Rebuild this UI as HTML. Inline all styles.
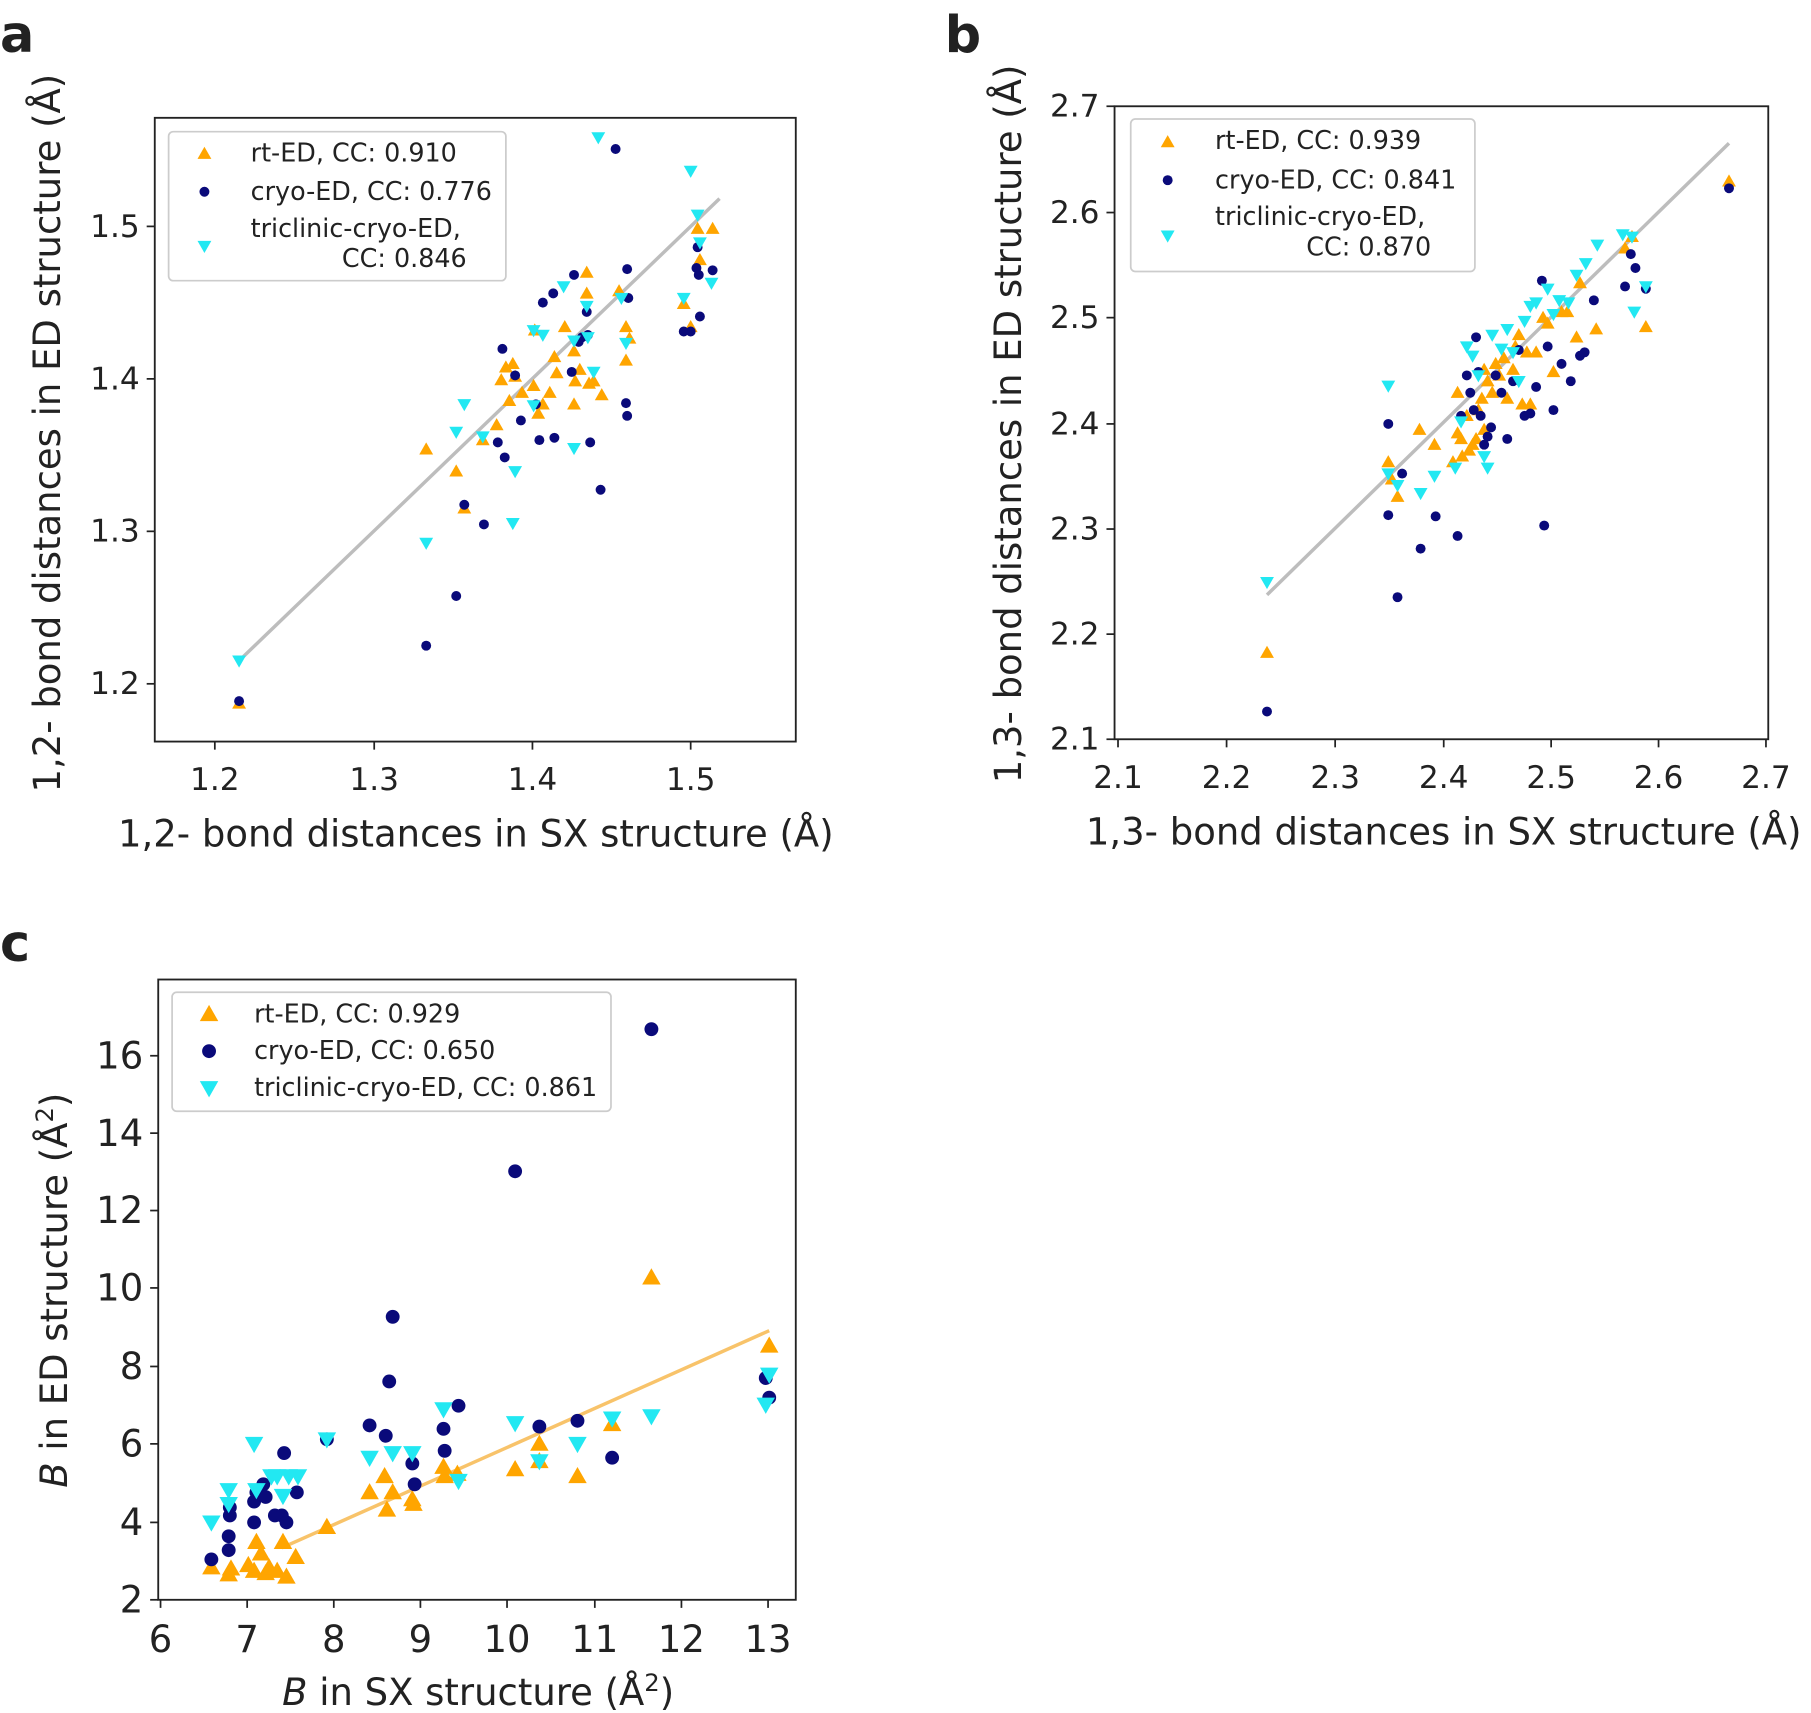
<!DOCTYPE html>
<html><head><meta charset="utf-8"><style>html,body{margin:0;padding:0;background:#fff}svg{display:block}text{font-family:"DejaVu Sans","Liberation Sans",sans-serif;fill:#222}</style></head><body>
<svg width="1811" height="1713" viewBox="0 0 1568 1483" preserveAspectRatio="none" xmlns="http://www.w3.org/2000/svg">
<defs>
<polygon id="tu" points="0,-6 6,4.5 -6,4.5" fill="#FFA500"/>
<polygon id="td" points="0,6 6,-4.5 -6,-4.5" fill="#22E8F2"/>
<circle id="c" r="4.3" fill="#0A0A7A"/>
<polygon id="TU" points="0,-8 8,6 -8,6" fill="#FFA500"/>
<polygon id="TD" points="0,8 8,-6 -8,-6" fill="#22E8F2"/>
<circle id="C" r="6" fill="#0A0A7A"/>
</defs>
<rect width="1568" height="1483" fill="#fff"/>

<!-- Panel a -->
<text x="0" y="45" font-size="44" font-weight="bold" fill="#000">a</text>
<line x1="207" y1="572" x2="623" y2="172" stroke="#bdbdbd" stroke-width="3"/>
<g>
<use href="#tu" x="207" y="609"/><use href="#tu" x="369" y="389"/><use href="#tu" x="395" y="408"/><use href="#tu" x="402" y="440"/><use href="#tu" x="418" y="381"/><use href="#tu" x="430" y="368"/><use href="#tu" x="434" y="329"/><use href="#tu" x="438" y="318"/><use href="#tu" x="444" y="315"/><use href="#tu" x="441" y="347"/><use href="#tu" x="446" y="326"/><use href="#tu" x="452" y="340"/><use href="#tu" x="462" y="334"/><use href="#tu" x="463" y="286"/><use href="#tu" x="466" y="358"/><use href="#tu" x="470" y="350"/><use href="#tu" x="476" y="340"/><use href="#tu" x="480" y="309"/><use href="#tu" x="482" y="323"/><use href="#tu" x="489" y="283"/><use href="#tu" x="497" y="350"/><use href="#tu" x="498" y="330"/><use href="#tu" x="502" y="320"/><use href="#tu" x="508" y="236"/><use href="#tu" x="508" y="254"/><use href="#tu" x="510" y="332"/><use href="#tu" x="514" y="330"/><use href="#tu" x="521" y="342"/><use href="#tu" x="536" y="252"/><use href="#tu" x="542" y="283"/><use href="#tu" x="542" y="312"/><use href="#tu" x="545" y="293"/><use href="#tu" x="592" y="263"/><use href="#tu" x="598" y="283"/><use href="#tu" x="604" y="198"/><use href="#tu" x="606" y="225"/><use href="#tu" x="617" y="198"/><use href="#tu" x="497" y="304"/>
<use href="#c" x="207" y="607"/><use href="#c" x="369" y="559"/><use href="#c" x="395" y="516"/><use href="#c" x="402" y="437"/><use href="#c" x="419" y="454"/><use href="#c" x="431" y="383"/><use href="#c" x="435" y="302"/><use href="#c" x="437" y="396"/><use href="#c" x="446" y="325"/><use href="#c" x="451" y="364"/><use href="#c" x="464" y="350"/><use href="#c" x="467" y="381"/><use href="#c" x="470" y="262"/><use href="#c" x="479" y="254"/><use href="#c" x="480" y="379"/><use href="#c" x="495" y="322"/><use href="#c" x="497" y="238"/><use href="#c" x="501" y="296"/><use href="#c" x="504" y="292"/><use href="#c" x="508" y="270"/><use href="#c" x="509" y="290"/><use href="#c" x="511" y="383"/><use href="#c" x="520" y="424"/><use href="#c" x="533" y="129"/><use href="#c" x="542" y="349"/><use href="#c" x="543" y="360"/><use href="#c" x="543" y="233"/><use href="#c" x="544" y="258"/><use href="#c" x="592" y="287"/><use href="#c" x="598" y="287"/><use href="#c" x="603" y="232"/><use href="#c" x="604" y="214"/><use href="#c" x="605" y="238"/><use href="#c" x="606" y="274"/><use href="#c" x="617" y="234"/>
<use href="#td" x="207" y="572"/><use href="#td" x="369" y="470"/><use href="#td" x="395" y="374"/><use href="#td" x="402" y="350"/><use href="#td" x="418" y="378"/><use href="#td" x="444" y="453"/><use href="#td" x="446" y="408"/><use href="#td" x="462" y="351"/><use href="#td" x="462" y="286"/><use href="#td" x="470" y="290"/><use href="#td" x="488" y="248"/><use href="#td" x="497" y="388"/><use href="#td" x="497" y="295"/><use href="#td" x="508" y="265"/><use href="#td" x="509" y="292"/><use href="#td" x="514" y="322"/><use href="#td" x="518" y="119"/><use href="#td" x="538" y="258"/><use href="#td" x="542" y="297"/><use href="#td" x="592" y="258"/><use href="#td" x="598" y="148"/><use href="#td" x="604" y="186"/><use href="#td" x="606" y="210"/><use href="#td" x="616" y="245"/>
</g>
<rect x="134" y="102" width="555" height="540" fill="none" stroke="#222" stroke-width="1.6"/>
<g stroke="#222" stroke-width="1.5">
<line x1="186" y1="642" x2="186" y2="649"/><line x1="324" y1="642" x2="324" y2="649"/><line x1="461" y1="642" x2="461" y2="649"/><line x1="598" y1="642" x2="598" y2="649"/>
<line x1="127" y1="196" x2="134" y2="196"/><line x1="127" y1="328" x2="134" y2="328"/><line x1="127" y1="460" x2="134" y2="460"/><line x1="127" y1="592" x2="134" y2="592"/>
</g>
<g font-size="27" text-anchor="middle"><text x="186" y="684">1.2</text><text x="324" y="684">1.3</text><text x="461" y="684">1.4</text><text x="598" y="684">1.5</text></g>
<g font-size="27" text-anchor="end"><text x="121" y="205">1.5</text><text x="121" y="337">1.4</text><text x="121" y="469">1.3</text><text x="121" y="601">1.2</text></g>
<text x="412" y="733" font-size="32" text-anchor="middle">1,2- bond distances in SX structure (Å)</text>
<text transform="translate(52,375) rotate(-90)" font-size="32" text-anchor="middle">1,2- bond distances in ED structure (Å)</text>
<rect x="146" y="114" width="292" height="129" rx="4" fill="#fff" fill-opacity="0.85" stroke="#ccc" stroke-width="1.5"/>
<use href="#tu" x="177" y="133"/><use href="#c" x="177" y="166"/><use href="#td" x="177" y="213"/>
<g font-size="22"><text x="217" y="140">rt-ED, CC: 0.910</text><text x="217" y="173">cryo-ED, CC: 0.776</text><text x="217" y="205">triclinic-cryo-ED,</text><text x="296" y="231">CC: 0.846</text></g>

<!-- Panel b -->
<text x="818" y="45" font-size="44" font-weight="bold" fill="#000">b</text>
<line x1="1097" y1="515" x2="1497" y2="124" stroke="#bdbdbd" stroke-width="3"/>
<g>
<use href="#tu" x="1097" y="565"/><use href="#tu" x="1202" y="400"/><use href="#tu" x="1205" y="415"/><use href="#tu" x="1210" y="430"/><use href="#tu" x="1229" y="372"/><use href="#tu" x="1242" y="385"/><use href="#tu" x="1258" y="400"/><use href="#tu" x="1262" y="375"/><use href="#tu" x="1265" y="380"/><use href="#tu" x="1266" y="395"/><use href="#tu" x="1270" y="360"/><use href="#tu" x="1272" y="390"/><use href="#tu" x="1275" y="385"/><use href="#tu" x="1278" y="380"/><use href="#tu" x="1280" y="355"/><use href="#tu" x="1283" y="345"/><use href="#tu" x="1285" y="372"/><use href="#tu" x="1288" y="330"/><use href="#tu" x="1292" y="340"/><use href="#tu" x="1295" y="315"/><use href="#tu" x="1298" y="325"/><use href="#tu" x="1302" y="310"/><use href="#tu" x="1305" y="345"/><use href="#tu" x="1310" y="320"/><use href="#tu" x="1312" y="300"/><use href="#tu" x="1315" y="290"/><use href="#tu" x="1318" y="350"/><use href="#tu" x="1322" y="305"/><use href="#tu" x="1325" y="350"/><use href="#tu" x="1330" y="305"/><use href="#tu" x="1336" y="275"/><use href="#tu" x="1340" y="280"/><use href="#tu" x="1345" y="322"/><use href="#tu" x="1352" y="270"/><use href="#tu" x="1357" y="270"/><use href="#tu" x="1365" y="292"/><use href="#tu" x="1368" y="245"/><use href="#tu" x="1382" y="285"/><use href="#tu" x="1407" y="215"/><use href="#tu" x="1413" y="205"/><use href="#tu" x="1425" y="283"/><use href="#tu" x="1497" y="157"/><use href="#tu" x="1262" y="340"/><use href="#tu" x="1285" y="320"/>
<use href="#c" x="1097" y="616"/><use href="#c" x="1202" y="367"/><use href="#c" x="1202" y="446"/><use href="#c" x="1210" y="517"/><use href="#c" x="1214" y="410"/><use href="#c" x="1230" y="475"/><use href="#c" x="1243" y="447"/><use href="#c" x="1262" y="464"/><use href="#c" x="1265" y="360"/><use href="#c" x="1270" y="325"/><use href="#c" x="1273" y="340"/><use href="#c" x="1276" y="355"/><use href="#c" x="1278" y="292"/><use href="#c" x="1280" y="322"/><use href="#c" x="1282" y="360"/><use href="#c" x="1285" y="385"/><use href="#c" x="1288" y="378"/><use href="#c" x="1291" y="370"/><use href="#c" x="1295" y="325"/><use href="#c" x="1300" y="340"/><use href="#c" x="1305" y="380"/><use href="#c" x="1310" y="330"/><use href="#c" x="1315" y="303"/><use href="#c" x="1320" y="360"/><use href="#c" x="1325" y="358"/><use href="#c" x="1330" y="335"/><use href="#c" x="1335" y="243"/><use href="#c" x="1337" y="455"/><use href="#c" x="1340" y="300"/><use href="#c" x="1345" y="355"/><use href="#c" x="1352" y="315"/><use href="#c" x="1360" y="330"/><use href="#c" x="1368" y="308"/><use href="#c" x="1372" y="305"/><use href="#c" x="1380" y="260"/><use href="#c" x="1407" y="248"/><use href="#c" x="1412" y="220"/><use href="#c" x="1416" y="232"/><use href="#c" x="1425" y="250"/><use href="#c" x="1497" y="163"/>
<use href="#td" x="1097" y="504"/><use href="#td" x="1202" y="334"/><use href="#td" x="1202" y="410"/><use href="#td" x="1210" y="420"/><use href="#td" x="1230" y="427"/><use href="#td" x="1242" y="412"/><use href="#td" x="1260" y="405"/><use href="#td" x="1265" y="365"/><use href="#td" x="1270" y="300"/><use href="#td" x="1275" y="308"/><use href="#td" x="1280" y="325"/><use href="#td" x="1285" y="395"/><use href="#td" x="1288" y="405"/><use href="#td" x="1292" y="290"/><use href="#td" x="1300" y="302"/><use href="#td" x="1305" y="285"/><use href="#td" x="1310" y="305"/><use href="#td" x="1315" y="330"/><use href="#td" x="1320" y="278"/><use href="#td" x="1325" y="265"/><use href="#td" x="1330" y="262"/><use href="#td" x="1340" y="250"/><use href="#td" x="1345" y="272"/><use href="#td" x="1350" y="260"/><use href="#td" x="1358" y="262"/><use href="#td" x="1365" y="238"/><use href="#td" x="1373" y="228"/><use href="#td" x="1383" y="212"/><use href="#td" x="1405" y="203"/><use href="#td" x="1413" y="205"/><use href="#td" x="1415" y="270"/><use href="#td" x="1425" y="248"/>
</g>
<rect x="965" y="92" width="566" height="548" fill="none" stroke="#222" stroke-width="1.6"/>
<g stroke="#222" stroke-width="1.5">
<line x1="968" y1="640" x2="968" y2="647"/><line x1="1062" y1="640" x2="1062" y2="647"/><line x1="1156" y1="640" x2="1156" y2="647"/><line x1="1250" y1="640" x2="1250" y2="647"/><line x1="1343" y1="640" x2="1343" y2="647"/><line x1="1436" y1="640" x2="1436" y2="647"/><line x1="1529" y1="640" x2="1529" y2="647"/>
<line x1="958" y1="92" x2="965" y2="92"/><line x1="958" y1="184" x2="965" y2="184"/><line x1="958" y1="275" x2="965" y2="275"/><line x1="958" y1="367" x2="965" y2="367"/><line x1="958" y1="458" x2="965" y2="458"/><line x1="958" y1="549" x2="965" y2="549"/><line x1="958" y1="640" x2="965" y2="640"/>
</g>
<g font-size="27" text-anchor="middle"><text x="968" y="682">2.1</text><text x="1062" y="682">2.2</text><text x="1156" y="682">2.3</text><text x="1250" y="682">2.4</text><text x="1343" y="682">2.5</text><text x="1436" y="682">2.6</text><text x="1529" y="682">2.7</text></g>
<g font-size="27" text-anchor="end"><text x="952" y="101">2.7</text><text x="952" y="193">2.6</text><text x="952" y="284">2.5</text><text x="952" y="376">2.4</text><text x="952" y="467">2.3</text><text x="952" y="558">2.2</text><text x="952" y="649">2.1</text></g>
<text x="1250" y="731" font-size="32" text-anchor="middle">1,3- bond distances in SX structure (Å)</text>
<text transform="translate(884,367) rotate(-90)" font-size="32" text-anchor="middle">1,3- bond distances in ED structure (Å)</text>
<rect x="979" y="103" width="298" height="132" rx="4" fill="#fff" fill-opacity="0.85" stroke="#ccc" stroke-width="1.5"/>
<use href="#tu" x="1011" y="123"/><use href="#c" x="1011" y="156"/><use href="#td" x="1011" y="204"/>
<g font-size="22"><text x="1052" y="129">rt-ED, CC: 0.939</text><text x="1052" y="163">cryo-ED, CC: 0.841</text><text x="1052" y="195">triclinic-cryo-ED,</text><text x="1131" y="221">CC: 0.870</text></g>

<!-- Panel c -->
<text x="0" y="832" font-size="44" font-weight="bold" fill="#000">c</text>
<line x1="244" y1="1340" x2="666" y2="1152" stroke="#F8C36A" stroke-width="3"/>
<g>
<use href="#TU" x="183" y="1357"/><use href="#TU" x="198" y="1363"/><use href="#TU" x="200" y="1358"/><use href="#TU" x="220" y="1360"/><use href="#TU" x="222" y="1335"/><use href="#TU" x="226" y="1345"/><use href="#TU" x="230" y="1362"/><use href="#TU" x="233" y="1357"/><use href="#TU" x="240" y="1360"/><use href="#TU" x="245" y="1335"/><use href="#TU" x="248" y="1365"/><use href="#TU" x="256" y="1348"/><use href="#TU" x="283" y="1322"/><use href="#TU" x="320" y="1292"/><use href="#TU" x="333" y="1278"/><use href="#TU" x="335" y="1307"/><use href="#TU" x="340" y="1292"/><use href="#TU" x="357" y="1298"/><use href="#TU" x="358" y="1302"/><use href="#TU" x="384" y="1270"/><use href="#TU" x="385" y="1278"/><use href="#TU" x="396" y="1276"/><use href="#TU" x="446" y="1272"/><use href="#TU" x="467" y="1250"/><use href="#TU" x="467" y="1265"/><use href="#TU" x="500" y="1278"/><use href="#TU" x="530" y="1233"/><use href="#TU" x="564" y="1106"/><use href="#TU" x="666" y="1165"/><use href="#TU" x="215" y="1355"/>
<use href="#C" x="183" y="1350"/><use href="#C" x="198" y="1342"/><use href="#C" x="198" y="1330"/><use href="#C" x="199" y="1312"/><use href="#C" x="199" y="1305"/><use href="#C" x="220" y="1318"/><use href="#C" x="220" y="1300"/><use href="#C" x="222" y="1292"/><use href="#C" x="228" y="1285"/><use href="#C" x="230" y="1296"/><use href="#C" x="238" y="1312"/><use href="#C" x="244" y="1312"/><use href="#C" x="246" y="1258"/><use href="#C" x="248" y="1318"/><use href="#C" x="257" y="1292"/><use href="#C" x="283" y="1246"/><use href="#C" x="320" y="1234"/><use href="#C" x="334" y="1243"/><use href="#C" x="337" y="1196"/><use href="#C" x="340" y="1140"/><use href="#C" x="357" y="1267"/><use href="#C" x="359" y="1285"/><use href="#C" x="384" y="1237"/><use href="#C" x="385" y="1256"/><use href="#C" x="397" y="1217"/><use href="#C" x="446" y="1014"/><use href="#C" x="467" y="1235"/><use href="#C" x="500" y="1230"/><use href="#C" x="530" y="1262"/><use href="#C" x="564" y="891"/><use href="#C" x="663" y="1193"/><use href="#C" x="666" y="1210"/>
<use href="#TD" x="183" y="1318"/><use href="#TD" x="198" y="1290"/><use href="#TD" x="198" y="1302"/><use href="#TD" x="220" y="1250"/><use href="#TD" x="222" y="1290"/><use href="#TD" x="235" y="1278"/><use href="#TD" x="240" y="1278"/><use href="#TD" x="245" y="1295"/><use href="#TD" x="250" y="1278"/><use href="#TD" x="258" y="1278"/><use href="#TD" x="283" y="1246"/><use href="#TD" x="320" y="1262"/><use href="#TD" x="340" y="1258"/><use href="#TD" x="357" y="1258"/><use href="#TD" x="384" y="1220"/><use href="#TD" x="397" y="1282"/><use href="#TD" x="446" y="1232"/><use href="#TD" x="467" y="1265"/><use href="#TD" x="500" y="1250"/><use href="#TD" x="530" y="1228"/><use href="#TD" x="564" y="1226"/><use href="#TD" x="663" y="1216"/><use href="#TD" x="666" y="1190"/>
</g>
<rect x="137" y="848" width="552" height="537" fill="none" stroke="#222" stroke-width="1.6"/>
<g stroke="#222" stroke-width="1.5">
<line x1="139" y1="1385" x2="139" y2="1392"/><line x1="214" y1="1385" x2="214" y2="1392"/><line x1="289" y1="1385" x2="289" y2="1392"/><line x1="364" y1="1385" x2="364" y2="1392"/><line x1="439" y1="1385" x2="439" y2="1392"/><line x1="515" y1="1385" x2="515" y2="1392"/><line x1="590" y1="1385" x2="590" y2="1392"/><line x1="665" y1="1385" x2="665" y2="1392"/>
<line x1="130" y1="1385" x2="137" y2="1385"/><line x1="130" y1="1318" x2="137" y2="1318"/><line x1="130" y1="1250" x2="137" y2="1250"/><line x1="130" y1="1183" x2="137" y2="1183"/><line x1="130" y1="1115" x2="137" y2="1115"/><line x1="130" y1="1048" x2="137" y2="1048"/><line x1="130" y1="981" x2="137" y2="981"/><line x1="130" y1="914" x2="137" y2="914"/>
</g>
<g font-size="32" text-anchor="middle"><text x="139" y="1430">6</text><text x="214" y="1430">7</text><text x="289" y="1430">8</text><text x="364" y="1430">9</text><text x="439" y="1430">10</text><text x="515" y="1430">11</text><text x="590" y="1430">12</text><text x="665" y="1430">13</text></g>
<g font-size="32" text-anchor="end"><text x="124" y="1396">2</text><text x="124" y="1329">4</text><text x="124" y="1261">6</text><text x="124" y="1194">8</text><text x="124" y="1126">10</text><text x="124" y="1059">12</text><text x="124" y="992">14</text><text x="124" y="925">16</text></g>
<text x="414" y="1476" font-size="32" text-anchor="middle"><tspan font-style="italic">B</tspan> in SX structure (Å<tspan font-size="21" dy="-12">2</tspan><tspan dy="12">)</tspan></text>
<text transform="translate(58,1117) rotate(-90)" font-size="32" text-anchor="middle"><tspan font-style="italic">B</tspan> in ED structure (Å<tspan font-size="21" dy="-12">2</tspan><tspan dy="12">)</tspan></text>
<rect x="149" y="859" width="380" height="103" rx="4" fill="#fff" fill-opacity="0.85" stroke="#ccc" stroke-width="1.5"/>
<use href="#TU" x="181" y="878"/><use href="#C" x="181" y="910"/><use href="#TD" x="181" y="942"/>
<g font-size="22"><text x="220" y="885">rt-ED, CC: 0.929</text><text x="220" y="917">cryo-ED, CC: 0.650</text><text x="220" y="949">triclinic-cryo-ED, CC: 0.861</text></g>
</svg>
</body></html>
